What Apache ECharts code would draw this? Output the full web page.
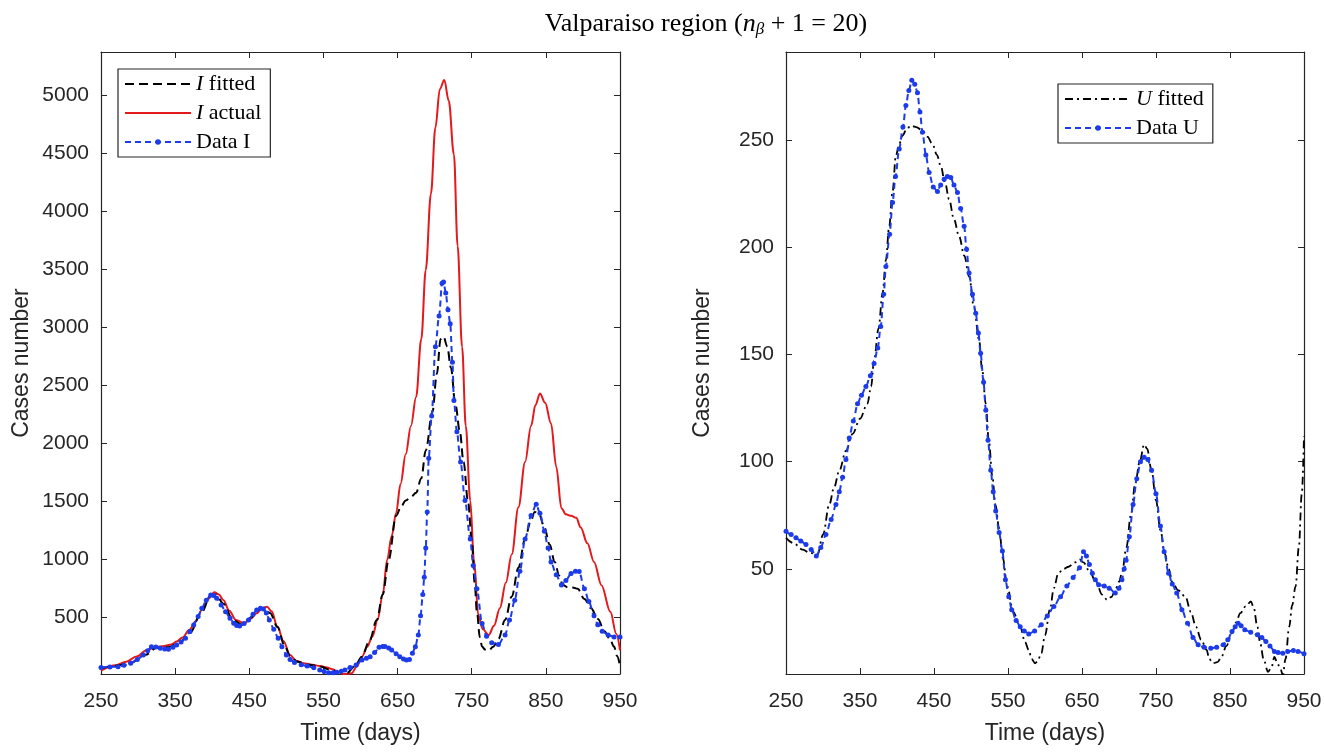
<!DOCTYPE html>
<html>
<head>
<meta charset="utf-8">
<title>Valparaiso region</title>
<script src="https://cdn.jsdelivr.net/npm/echarts@6/dist/echarts.min.js"></script>
<style>
  html, body { margin:0; padding:0; background:#fff; }
  #main { width:1325px; height:756px; }
</style>
</head>
<body>
<div id="main"></div>
<script>
// 刻度
var xTicks = [250, 350, 450, 550, 650, 750, 850, 950];
var yTicksI = [500, 1000, 1500, 2000, 2500, 3000, 3500, 4000, 4500, 5000];
var yTicksU = [50, 100, 150, 200, 250];

// 左图: I fitted
var iFitDays = [250,270,290,310,325,340,355,370,385,398,405,415,428,440,452,462,470,478,488,497,505,515,530,545,560,572,582,592,602,612,622,630,638,648,655,661,668,675,682,688,697,703,708,712,717,722,728,734,739,745,750,754,757,761,764,768,773,779,786,795,804,813,822,829,835,841,848,855,862,868,873,880,886,893,902,911,920,929,936,942,946,950];
var iFitVals = [65,85,110,180,240,245,280,370,540,690,700,620,480,440,500,570,580,540,420,270,170,120,95,80,50,30,25,80,164,300,480,700,1000,1377,1460,1509,1540,1575,1700,1940,2270,2600,2899,2920,2833,2650,2336,2100,1840,1500,1178,800,550,330,251,225,218,250,317,480,682,930,1178,1320,1410,1390,1277,1130,980,860,781,760,760,748,660,582,490,384,320,251,170,86];

// 左图: I actual
var iActDays = [250,270,284,298,312,325,335,345,352,360,369,378,386,394,403,409,415,423,432,443,452,460,467,474,480,488,496,505,513,523,535,545,555,562,570,577,588,595,602,609,616,623,630,636,642,648,654,661,668,675,682,688,695,701,707,713,719,726,731,737,742,748,753,759,765,773,780,788,796,804,813,822,830,836,842,849,857,864,871,877,884,891,897,906,915,925,937,945,950];
var iActVals = [44,90,121,165,222,248,256,270,294,330,394,470,567,660,719,700,653,560,480,452,490,538,580,595,555,423,300,179,130,107,95,84,70,55,35,15,21,80,164,250,337,480,700,998,1200,1400,1650,1906,2150,2400,2900,3494,4150,4719,5050,5130,4950,4487,3700,2833,2150,1509,1000,516,400,350,430,582,800,1046,1450,1840,2150,2330,2430,2350,2171,1800,1443,1390,1377,1360,1277,1140,980,780,550,360,219];

// 左图: Data I
var iDataDays = [250,262,273,281,290,299,307,313,318,324,330,336,341,347,352,358,364,370,375,381,386,392,398,402,406,412,418,424,429,433,437,443,449,455,460,465,469,473,477,483,489,494,500,505,511,520,528,537,545,551,557,563,568,574,579,586,594,602,608,613,619,625,630,633,638,642,648,653,658,662,666,670,674,678,681,684,686,688,690,692,696,701,706,710,712,715,718,721,724,726,730,735,741,748,752,757,764,770,777,786,795,801,808,815,822,830,837,842,848,853,857,864,871,877,884,890,895,902,908,915,920,926,934,942,950];
var iDataVals = [72,76,78,90,107,140,179,215,250,248,236,230,228,245,265,290,322,380,437,510,581,650,696,690,667,610,552,495,452,432,429,450,480,530,567,580,575,540,480,400,322,250,179,140,113,95,84,68,49,36,26,26,29,38,49,70,93,136,150,164,200,245,252,251,238,222,190,164,145,136,140,193,250,350,516,700,847,1100,1410,1873,2237,2833,3097,3379,3390,3296,3150,3031,2700,2370,2100,1840,1509,1178,950,748,450,340,285,268,350,480,649,900,1178,1380,1476,1400,1244,1100,980,870,781,820,880,900,897,748,640,516,440,384,350,334,334];

// 右图: U fitted
var uFitDays = [250,260,272.5,282,292.7,300,308.5,315,322,331,340,350,360,365,369,375,380.5,385,389.5,394,398.5,403,407.4,413,418.7,426,434.4,441,448,454,459,465,470.4,477,484,491,497.4,504,511,515,520,524,529,533,538,543,549,557,566.5,573,578,582,586.6,590,595,600,606.6,612,618,625,632,640,646.7,652,660,669.6,677,684,690,695,700,704,710,716,722,728,734,738,744,750,756,762,767,772.6,780,789.8,797,804,811,818.4,822,827,833,838.4,845,852.7,858,864,871,878.3,882,887,891,895.6,901.4,906,910,914,918.6,921.4,925,930,934,938.6,943,947,950];
var uFitVals = [64.5,62,59,57.5,56.7,66,80,88,95.8,105,113,120,127,135,147,162,178.6,194,209.8,226,242.7,248,252,255,256.7,256,254.4,251.5,248,243,238,230,222.3,213,205,196,186.4,172,156.7,143,127,110,92.7,80,69,55,41.9,30,23,16,12.2,8,6,7,10.7,19,31,41,48,50,51,53,54.4,53,49,43.4,38,35.6,37,40.3,44,48,60,75,90,100,108,106,96,82,68,57,50,43.4,40,37,30,23,17,12.2,8,6,6.5,9,14,20,25,29.4,32.5,34.8,32,23,15,7.5,2,4,9,6,2.9,0.5,8,23,33,41.9,60,85,112];

// 右图: Data U
var uDataDays = [250,257,263.5,270,277,284,291,297,304,311,317.5,322,326.5,331,335.5,341,346.7,352,358,364,369,374,378,382,385,390,394,398,403,408,412,416,420,424,427.7,431,434.4,439,443.4,449,454.7,459,463.7,468,472.7,477,481.7,486,490.7,494,497.4,502,506.4,510,513,517,520,523,526.7,530,533.4,538,542.4,546.5,551,555,561,566.5,572,578,586,595,603,612,621,629.5,638,646.7,652,656,660,664,668,672.5,680,686.7,695,700,704,707,709.6,714,719,724,729,734,739,744,750,756,761,767,772,778,785,792.6,800,807,815,824,832,841,847,852.7,857,861,865,870,878,887,893,898.5,904,910,915,921.4,928,935.7,942,950];
var uDataVals = [67.6,66,64.5,63,61.4,59,56,60,66,73,80,86,92.7,101,111,119,127,131,135,140,145.8,153,163,178,191,206,220.8,233,245.8,256,266,273,277.8,276,272,263,253.6,243,234.8,228,226,229,231.7,233,232.5,229,225.5,218,209.8,199,188,178,169.2,160,150.5,137,124,110,96,86,77,67,58.3,45,37,31,26,23,21,19.7,21,24,28,32.5,37,42,46,50.5,58,56,52,48,45,42.6,42,41,38.8,41,45,50,54,65,80,92,100,102,101,96,85,70,58,48,43,38.8,31,24.7,18,14.6,13.5,13,13.5,14.6,17,20.8,23,24.7,23.5,21.6,20.5,19.3,18,16.1,14,11.5,11,10.7,11.5,12,11.5,10.4];

function pairs(d, v){
	var out = [];
	for (var i = 0; i < d.length; i++) {
		out.push([d[i], v[i]]);
	}
	return out;
};

var ink = '#262626';
var blue = '#1c3bea';
var sans = 'Liberation Sans';
var serif = 'Liberation Serif';

// 坐标轴
function xAx(grid, bottom){
	return {
		type:'value', gridIndex:grid, min:250, max:950,
		position: bottom ? 'bottom' : 'top',
		name: bottom ? 'Time (days)' : '',
		nameLocation:'middle', nameGap:48,
		nameTextStyle:{ color:ink, fontFamily:sans, fontSize:23 },
		axisLine:{ show:true, onZero:false, lineStyle:{ color:ink, width:1.2 } },
		axisTick:{ show:true, inside:true, length:6, customValues:xTicks, lineStyle:{ color:ink } },
		axisLabel:{ show:bottom, customValues:xTicks, margin:17, color:ink, fontFamily:sans, fontSize:21,
			formatter:function(v){ return String(v); } },
		splitLine:{ show:false }
	};
};
function yAx(grid, left, min, max, ticks){
	return {
		type:'value', gridIndex:grid, min:min, max:max,
		position: left ? 'left' : 'right',
		name: left ? 'Cases number' : '',
		nameLocation:'middle', nameGap: grid === 0 ? 68 : 72,
		nameTextStyle:{ color:ink, fontFamily:sans, fontSize:23 },
		axisLine:{ show:true, onZero:false, lineStyle:{ color:ink, width:1.2 } },
		axisTick:{ show:true, inside:true, length:6, customValues:ticks, lineStyle:{ color:ink } },
		axisLabel:{ show:left, customValues:ticks, margin:12, color:ink, fontFamily:sans, fontSize:21,
			formatter:function(v){ return String(v); } },
		splitLine:{ show:false }
	};
};

var legendRich = {
	it:{ fontStyle:'italic', fontFamily:serif, fontSize:22, color:'#000' },
	t:{ fontFamily:serif, fontSize:22, color:'#000' }
};
function legendFmt(name){
	var m = name.match(/^([IU]) (.*)$/);
	if (m) {
		return '{it|' + m[1] + '}{t| ' + m[2] + '}';
	}
	return '{t|' + name + '}';
};
// 图例: 拟合线不画点
var noDot = { opacity:0 };

var myChart = echarts.init(document.getElementById('main'));
var option = {
	animation:false,
	backgroundColor:'#fff',
	title:{
		text:'{t|Valparaiso region (}{it|n}{sub|β}{t| + 1 = 20)}',
		left:701, top:5, textAlign:'center',
		textStyle:{
			rich:{
				t:{ fontFamily:serif, fontSize:26, fontWeight:'normal', color:'#000' },
				it:{ fontFamily:serif, fontSize:26, fontWeight:'normal', fontStyle:'italic', color:'#000' },
				sub:{ fontFamily:serif, fontSize:17, fontWeight:'normal', fontStyle:'italic', color:'#000', padding:[11,0,0,0] }
			}
		}
	},
	grid:[
		{ left:101, top:52, width:519, height:622, show:false },
		{ left:786, top:52, width:518, height:622, show:false }
	],
	legend:[
		{
			data:[
				{ name:'I fitted', itemStyle:noDot },
				{ name:'I actual', itemStyle:noDot },
				{ name:'Data I' }
			],
			orient:'vertical', left:118, top:69,
			itemWidth:66, itemHeight:7, itemGap:5, itemTextGap:4,
			padding:[3, 9, 3, 6],
			borderColor:ink, borderWidth:1.2, backgroundColor:'#fff',
			formatter:legendFmt,
			textStyle:{ rich:legendRich, lineHeight:24 }
		},
		{
			data:[
				{ name:'U fitted', itemStyle:noDot },
				{ name:'Data U' }
			],
			orient:'vertical', left:1058, top:84,
			itemWidth:66, itemHeight:7, itemGap:5, itemTextGap:4,
			padding:[3, 9, 3, 6],
			borderColor:ink, borderWidth:1.2, backgroundColor:'#fff',
			formatter:legendFmt,
			textStyle:{ rich:legendRich, lineHeight:24 }
		}
	],
	xAxis:[ xAx(0, true), xAx(0, false), xAx(1, true), xAx(1, false) ],
	yAxis:[
		yAx(0, true, 15, 5370, yTicksI), yAx(0, false, 15, 5370, yTicksI),
		yAx(1, true, 1, 291, yTicksU), yAx(1, false, 1, 291, yTicksU)
	],
	series:[
		{
			name:'I fitted', type:'line', xAxisIndex:0, yAxisIndex:0,
			data:pairs(iFitDays, iFitVals), smooth:0.35, smoothMonotone:'x',
			symbol:'none', z:3,
			lineStyle:{ color:'#000', width:2, type:[9, 5] }, itemStyle:{ color:'#000' }
		},
		{
			name:'I actual', type:'line', xAxisIndex:0, yAxisIndex:0,
			data:pairs(iActDays, iActVals), smooth:0.35, smoothMonotone:'x',
			symbol:'none', z:2,
			lineStyle:{ color:'#e3191c', width:2 }, itemStyle:{ color:'#e3191c' }
		},
		{
			name:'Data I', type:'line', xAxisIndex:0, yAxisIndex:0,
			data:pairs(iDataDays, iDataVals), smooth:0.3, smoothMonotone:'x',
			symbol:'circle', symbolSize:5, showAllSymbol:true, z:4,
			lineStyle:{ color:blue, width:2, type:[6, 4] }, itemStyle:{ color:blue }
		},
		{
			name:'U fitted', type:'line', xAxisIndex:2, yAxisIndex:2,
			data:pairs(uFitDays, uFitVals), smooth:0.35, smoothMonotone:'x',
			symbol:'none', z:3,
			lineStyle:{ color:'#000', width:1.8, type:[8, 4, 2, 4] }, itemStyle:{ color:'#000' }
		},
		{
			name:'Data U', type:'line', xAxisIndex:2, yAxisIndex:2,
			data:pairs(uDataDays, uDataVals), smooth:0.3, smoothMonotone:'x',
			symbol:'circle', symbolSize:5, showAllSymbol:true, z:4,
			lineStyle:{ color:blue, width:2, type:[6, 4] }, itemStyle:{ color:blue }
		}
	]
};
myChart.setOption(option);
</script>
</body>
</html>
